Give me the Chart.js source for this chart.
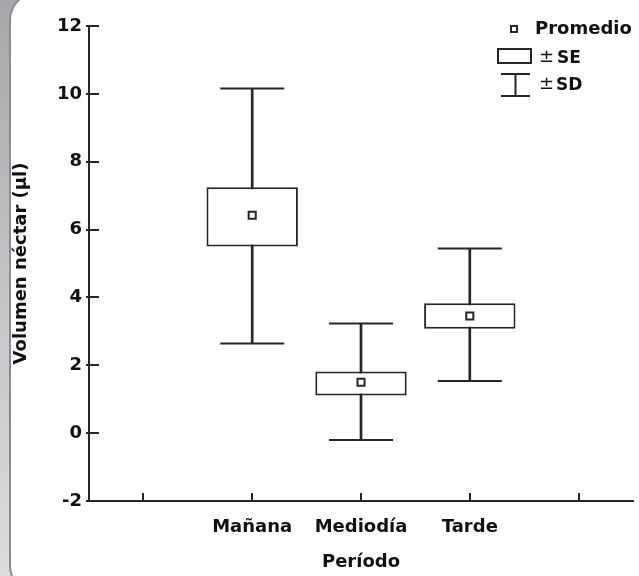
<!DOCTYPE html>
<html>
<head>
<meta charset="utf-8">
<script src="https://cdn.jsdelivr.net/npm/chart.js@4.4.1/dist/chart.umd.min.js"></script>
<style>
  html, body { margin:0; padding:0; width:639px; height:576px; overflow:hidden; }
  body { background: linear-gradient(to bottom, #a7a7a9 0%, #c4c4c6 50%, #dcdcde 100%); position:relative; }
  #panel { position:absolute; left:9px; top:-8px; width:640px; height:598px; background:#fff;
           border:2px solid #8c8c8e; border-right-color:#c8c8ca; border-radius:28px; }
  #c { position:absolute; left:0; top:0; }
</style>
</head>
<body>
<div id="panel"></div>
<canvas id="c" width="639" height="576"></canvas>
<script>
// ---- data ----
const categories = ['', 'Mañana', 'Mediodía', 'Tarde', ''];
const meanValues = [null, 6.42, 1.50, 3.45, null];
const seLow      = [null, 5.50, 1.11, 3.08, null];
const seHigh     = [null, 7.25, 1.82, 3.83, null];
const sdLow      = [null, 2.64, -0.20, 1.54, null];
const sdHigh     = [null, 10.16, 3.23, 5.44, null];
const yTicks     = [-2, 0, 2, 4, 6, 8, 10, 12];
const yTitle     = 'Volumen néctar (μl)';
const xTitle     = 'Período';
const legendLabels = ['Promedio', 'SE', 'SD'];

const INK = '#262626';
const FONT = 'DejaVu Sans';
const tickFont = { family: FONT, size: 18, weight: 'bold' };

const seBars = categories.map((c, i) => seLow[i] == null ? null : [seLow[i], seHigh[i]]);
const sdBars = categories.map((c, i) => sdLow[i] == null ? null : [sdLow[i], sdHigh[i]]);

const innerTicks = {
  id: 'innerTicks',
  afterDraw(chart) {
    const { ctx, chartArea: a } = chart;
    const xs = chart.scales.x, ys = chart.scales.y;
    ctx.save();
    ctx.strokeStyle = INK;
    ctx.lineWidth = 2;
    ctx.beginPath();
    yTicks.forEach(v => {
      const y = Math.round(ys.getPixelForValue(v));
      ctx.moveTo(a.left - 3, y);
      ctx.lineTo(a.left + 10, y);
    });
    categories.forEach((c, i) => {
      const x = Math.round(xs.getPixelForValue(i));
      ctx.moveTo(x, a.bottom);
      ctx.lineTo(x, a.bottom - 8);
    });
    ctx.stroke();

    // legend
    ctx.lineWidth = 2;
    ctx.fillStyle = '#111';
    ctx.textBaseline = 'middle';
    ctx.textAlign = 'left';
    ctx.strokeRect(511, 26, 6, 6);
    ctx.font = 'bold 18px "' + FONT + '"';
    ctx.fillText(legendLabels[0], 535, 29);
    ctx.strokeRect(498, 49, 33, 14);
    ctx.beginPath();
    ctx.moveTo(501, 74); ctx.lineTo(530, 74);
    ctx.moveTo(501, 96); ctx.lineTo(530, 96);
    ctx.moveTo(515.5, 74); ctx.lineTo(515.5, 96);
    ctx.stroke();
    ctx.font = '18px "' + FONT + '"';
    ctx.fillText('±', 539, 57);
    ctx.fillText('±', 539, 84);
    ctx.font = 'bold 17px "' + FONT + '"';
    ctx.fillText(legendLabels[1], 557, 59);
    ctx.fillText(legendLabels[2], 556, 86);
    ctx.restore();
  }
};

const hiddenGrid = (len) => ({ display: true, drawOnChartArea: false, drawTicks: true,
                               tickLength: len, color: 'rgba(0,0,0,0)' });

new Chart(document.getElementById('c'), {
  data: {
    labels: categories,
    datasets: [
      { type: 'bar', label: 'SD', data: sdBars, backgroundColor: INK, barThickness: 2,
        grouped: false, order: 4 },
      { type: 'bar', label: 'SE', data: seBars, backgroundColor: '#ffffff', borderColor: INK,
        borderWidth: 2, borderSkipped: false, grouped: false, categoryPercentage: 1,
        barPercentage: 0.84, order: 3 },
      { type: 'line', label: 'SD max', data: sdHigh, showLine: false, pointStyle: 'line',
        pointRadius: 32, pointHoverRadius: 32, borderColor: INK, borderWidth: 2, order: 2 },
      { type: 'line', label: 'SD min', data: sdLow, showLine: false, pointStyle: 'line',
        pointRadius: 32, pointHoverRadius: 32, borderColor: INK, borderWidth: 2, order: 2 },
      { type: 'line', label: 'Promedio', data: meanValues, showLine: false, pointStyle: 'rect',
        pointRadius: 5, pointHoverRadius: 5, backgroundColor: '#ffffff', borderColor: INK,
        borderWidth: 2, order: 1 }
    ]
  },
  options: {
    responsive: false,
    animation: false,
    events: [],
    layout: { autoPadding: false, padding: { left: 0, right: 6, top: 26, bottom: 0 } },
    plugins: { legend: { display: false }, tooltip: { enabled: false } },
    scales: {
      x: {
        type: 'category', offset: true,
        grid: hiddenGrid(16),
        border: { display: true, color: INK, width: 2 },
        ticks: { color: '#111', font: tickFont, padding: 0, autoSkip: false, maxRotation: 0 },
        title: { display: true, text: xTitle, color: '#111', font: tickFont, padding: { top: 0, bottom: 3 } },
        afterFit(s) { s.height = 75; s.paddingLeft = 0; s.paddingRight = 0; }
      },
      y: {
        type: 'linear', min: -2, max: 12,
        grid: hiddenGrid(7),
        border: { display: true, color: INK, width: 2 },
        ticks: { stepSize: 2, color: '#111', font: tickFont, padding: 0 },
        title: { display: true, text: yTitle, color: '#111', font: tickFont, padding: { top: 11, bottom: 0 } },
        afterFit(s) { s.width = 89; s.paddingTop = 0; s.paddingBottom = 0; }
      }
    }
  },
  plugins: [innerTicks]
});
</script>
</body>
</html>
